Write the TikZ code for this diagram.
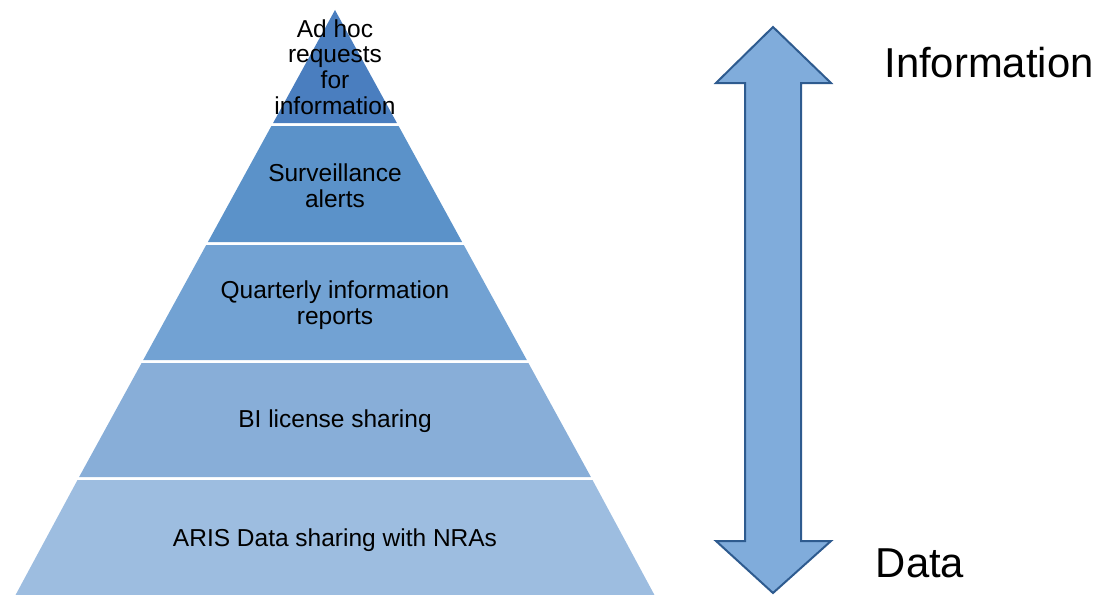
\documentclass[tikz,border=0pt]{standalone}
\usepackage{fontspec}
\setmainfont{Liberation Sans}
\definecolor{bandA}{HTML}{4A7EBF}
\definecolor{bandB}{HTML}{5B92C9}
\definecolor{bandC}{HTML}{72A2D3}
\definecolor{bandD}{HTML}{88AED8}
\definecolor{bandE}{HTML}{9DBDE0}
\definecolor{arrfill}{HTML}{80ACDB}
\definecolor{arrline}{HTML}{2E5B8F}
\tikzset{
  band/.style={draw=none},
  lbl/.style={align=center, font=\fontsize{24.5}{25.7}\selectfont, inner sep=0pt},
  big/.style={font=\fontsize{41.8}{45}\selectfont, inner sep=0pt}
}
\begin{document}
\begin{tikzpicture}[x=1pt,y=-1pt]
\useasboundingbox (0,0) rectangle (1097,594);
% pyramid bands
\fill[bandA] (335,10) -- (396.9,123) -- (273.1,123) -- cycle;
\fill[bandB] (271.4,126) -- (398.6,126) -- (462.1,242) -- (207.9,242) -- cycle;
\fill[bandC] (206.2,245) -- (463.8,245) -- (526.8,360) -- (143.2,360) -- cycle;
\fill[bandD] (141.6,363) -- (528.4,363) -- (590.9,477) -- (79.1,477) -- cycle;
\fill[bandE] (77.5,480) -- (592.5,480) -- (655,596) -- (15,596) -- cycle;
% labels
\node[lbl] (l1) at (335,67) {Ad hoc\\requests\\for\\information};
\node[lbl] (l2) at (335,186) {Surveillance\\alerts};
\node[lbl] (l3) at (335,305) {Quarterly information\\reports};
\node[lbl] (l4) at (335,421) {BI license sharing};
\node[lbl] (l5) at (335,540) {ARIS Data sharing with NRAs};
% double arrow
\coordinate (ttip) at (773,27);
\coordinate (btip) at (773,593);
\draw[fill=arrfill, draw=arrline, line width=2pt, line join=miter]
  (ttip) -- (831,83) -- (801,83) -- (801,541) -- (831,541) -- (btip)
  -- (716,541) -- (745,541) -- (745,83) -- (716,83) -- cycle;
\node[big] (info) at (989,63) {Information};
\node[big] (data) at (920,563) {Data};
\end{tikzpicture}
\end{document}
